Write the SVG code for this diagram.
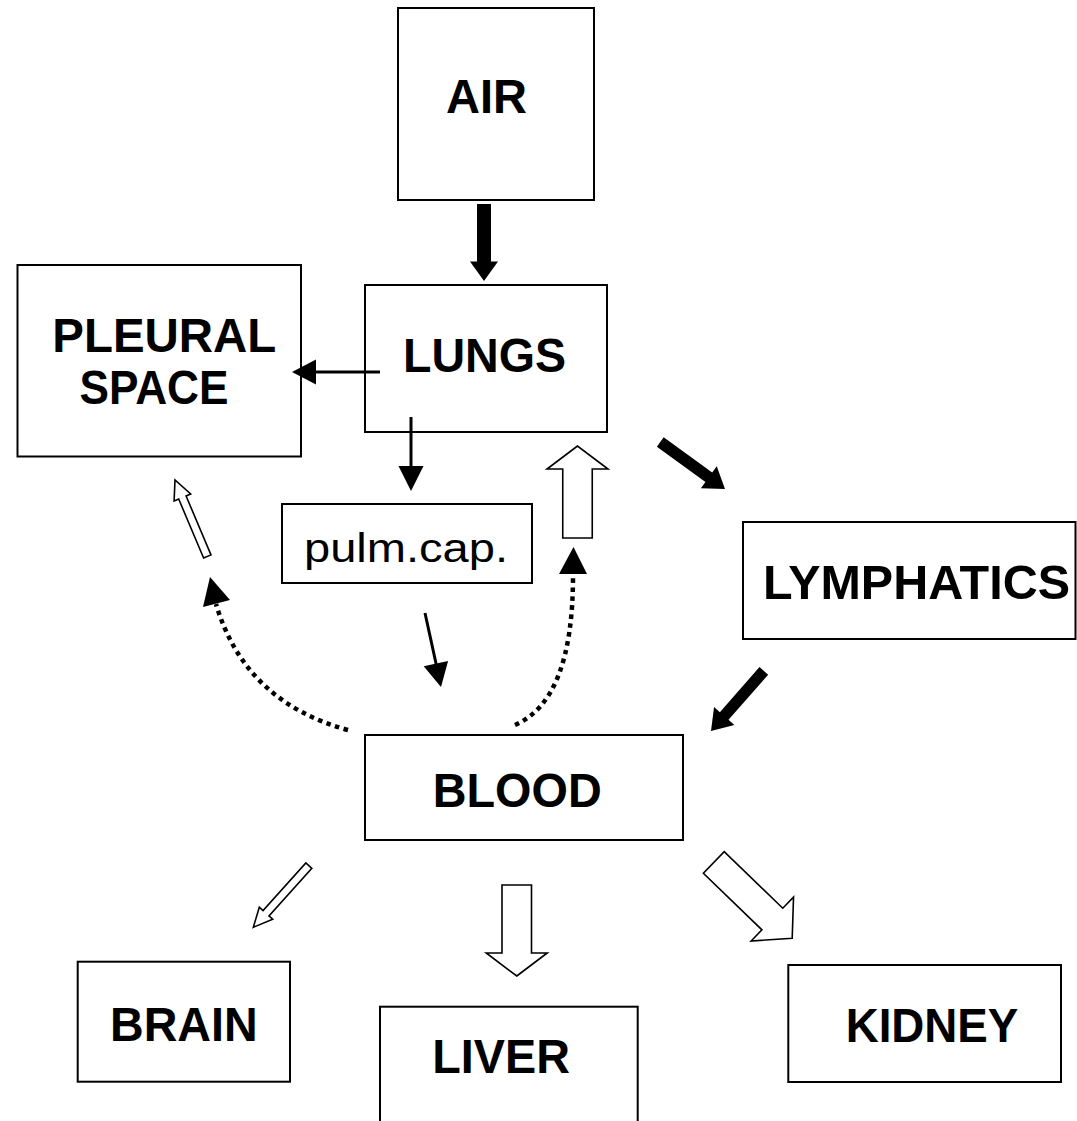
<svg xmlns="http://www.w3.org/2000/svg" width="1077" height="1121" viewBox="0 0 1077 1121">
<style>
.box{fill:#fff;stroke:#000;stroke-width:2}
.lbl{font-family:"Liberation Sans",Arial,sans-serif;font-weight:bold;font-size:48px;fill:#000}
.lbln{font-family:"Liberation Sans",Arial,sans-serif;font-size:40px;fill:#000}
.hollow{fill:#fff;stroke:#000;stroke-width:1.6;stroke-linejoin:miter}
.solid{fill:#000;stroke:none}
.thin{fill:none;stroke:#000;stroke-width:3}
.dot{fill:none;stroke:#000;stroke-width:4.5;stroke-dasharray:4.5 4.5}
</style>
<rect width="1077" height="1121" fill="#fff"/>
<g id="air"><rect class="box" x="398" y="8" width="196" height="192"/><text class="lbl" x="446" y="113" textLength="81" lengthAdjust="spacingAndGlyphs">AIR</text></g>
<g id="pleural"><rect class="box" x="17.5" y="265" width="283.5" height="191.5"/><text class="lbl" x="52.3" y="351.7" textLength="224" lengthAdjust="spacingAndGlyphs">PLEURAL</text><text class="lbl" x="79.5" y="404" textLength="149" lengthAdjust="spacingAndGlyphs">SPACE</text></g>
<g id="lungs"><rect class="box" x="365" y="285" width="242" height="147"/><text class="lbl" x="403" y="372" textLength="163" lengthAdjust="spacingAndGlyphs">LUNGS</text></g>
<g id="pulmcap"><rect class="box" x="282" y="504" width="250" height="79"/><text class="lbln" x="304" y="562" textLength="204" lengthAdjust="spacingAndGlyphs">pulm.cap.</text></g>
<g id="lymphatics"><rect class="box" x="743" y="522" width="332.5" height="117"/><text class="lbl" x="763" y="599" textLength="307" lengthAdjust="spacingAndGlyphs">LYMPHATICS</text></g>
<g id="blood"><rect class="box" x="365" y="735" width="318" height="105"/><text class="lbl" x="432.7" y="806.7" textLength="169" lengthAdjust="spacingAndGlyphs">BLOOD</text></g>
<g id="brain"><rect class="box" x="77.7" y="961.7" width="212.3" height="120"/><text class="lbl" x="110" y="1040.7" textLength="147.7" lengthAdjust="spacingAndGlyphs">BRAIN</text></g>
<g id="liver"><rect class="box" x="380" y="1006.7" width="257.7" height="130"/><text class="lbl" x="432.3" y="1073.3" textLength="137.7" lengthAdjust="spacingAndGlyphs">LIVER</text></g>
<g id="kidney"><rect class="box" x="788.3" y="965" width="272.7" height="117"/><text class="lbl" x="845.7" y="1041.7" textLength="172.6" lengthAdjust="spacingAndGlyphs">KIDNEY</text></g>
<g id="connectors">
<path class="solid" transform="translate(484,281) rotate(90)" d="M0,0 L-19.5,-14 L-19.5,-7 L-77,-7 L-77,7 L-19.5,7 L-19.5,14 Z"/>
<path class="solid" transform="translate(725,489) rotate(36)" d="M0,0 L-20,-13.5 L-20,-5.75 L-80,-5.75 L-80,5.75 L-20,5.75 L-20,13.5 Z"/>
<path class="solid" transform="translate(711,731) rotate(131.3)" d="M0,0 L-20,-13.5 L-20,-5.75 L-80,-5.75 L-80,5.75 L-20,5.75 L-20,13.5 Z"/>
<path class="thin" d="M380,372 L312,372"/>
<path class="solid" d="M292,372 L316,359.5 L316,384.5 Z"/>
<path class="thin" d="M411,417 L411,470"/>
<path class="solid" d="M411,491 L398.5,466 L423.5,466 Z"/>
<path class="thin" d="M425,613 L437,668"/>
<path class="solid" d="M441,687 L423.7,666.2 L448.1,661 Z"/>
<path class="dot" d="M348,730 Q245,702 216,604"/>
<path class="solid" d="M210,577 L203,607 L230,600 Z"/>
<path class="dot" d="M515,725 Q573,700 573,576"/>
<path class="solid" d="M573.5,547 L559,574 L587,574 Z"/>
<path class="hollow" transform="translate(577.5,446) rotate(-90)" d="M0,0 L-23,-30.5 L-23,-14.75 L-92,-14.75 L-92,14.75 L-23,14.75 L-23,30.5 Z"/>
<path class="hollow" transform="translate(516.75,976) rotate(90)" d="M0,0 L-23,-30.5 L-23,-14.75 L-91,-14.75 L-91,14.75 L-23,14.75 L-23,30.5 Z"/>
<path class="hollow" transform="translate(792.2,938.2) rotate(44)" d="M0,0 L-27.6,-30.5 L-27.6,-15 L-109,-15 L-109,15 L-27.6,15 L-27.6,30.5 Z"/>
<path class="hollow" transform="translate(175,480) rotate(-112.9)" d="M0,0 L-19,-9 L-19,-4 L-83,-4 L-83,4 L-19,4 L-19,9 Z"/>
<path class="hollow" transform="translate(253.3,927.3) rotate(132)" d="M0,0 L-19,-9 L-19,-4 L-83,-4 L-83,4 L-19,4 L-19,9 Z"/>
</g>
</svg>
